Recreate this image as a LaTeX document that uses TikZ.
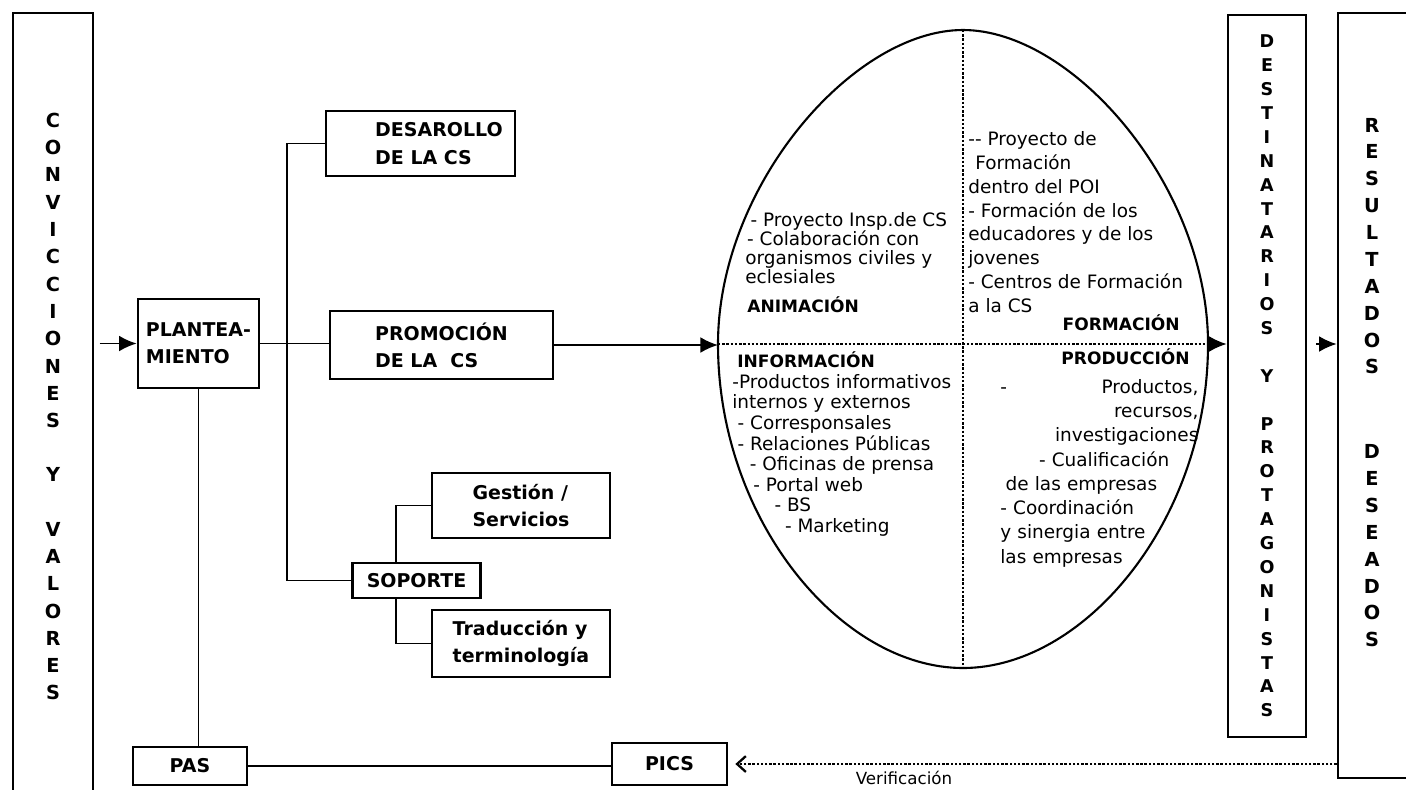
\documentclass[tikz,border=0pt]{standalone}
\usepackage{fontspec}
\setmainfont{DejaVu Sans}
\usetikzlibrary{arrows.meta}
\newcommand{\pxu}{0.02cm}

\begin{document}
\begin{tikzpicture}
    [x=0.02cm, y=-0.02cm,
    box/.style={rectangle, draw=black, line width=1.5pt, inner sep=0pt, align=left, font=\bfseries\fontsize{10.8}{15.5}\selectfont},
    column/.style={rectangle, draw=black, line width=1.5pt, inner sep=0pt, align=center},
    link/.style={line width=1.1pt},
    flow/.style={line width=1.1pt, -{Latex[length=10pt,width=9pt]}},
    quad/.style={inner sep=0pt, align=left},
    head/.style={inner sep=0pt, font=\bfseries\fontsize{9.7}{11}\selectfont},
    split/.style={line width=1.3pt, dash pattern=on 1.4pt off 1pt}]
\useasboundingbox (0,0) rectangle (1406,789);

\node[column, minimum width=80*\pxu, minimum height=787*\pxu, font=\bfseries\fontsize{11}{15.55}\selectfont] (conv) at (53,406.5)
    {C\\O\\N\\V\\I\\C\\C\\I\\O\\N\\E\\S\\[15.3pt]Y\\[15.3pt]V\\A\\L\\O\\R\\E\\S};
\node[column, minimum width=78*\pxu, minimum height=722*\pxu, font=\bfseries\fontsize{10}{13.6}\selectfont] (dest) at (1267,376)
    {D\\E\\S\\T\\I\\N\\A\\T\\A\\R\\I\\O\\S\\[13.6pt]Y\\[13.6pt]P\\R\\O\\T\\A\\G\\O\\N\\I\\S\\T\\A\\S};
\node[column, minimum width=84*\pxu, minimum height=765*\pxu] (result) at (1380,395.5) {};
\node[quad, align=center, font=\bfseries\fontsize{11}{15.3}\selectfont] (resulttxt) at (1372,382.5)
    {R\\E\\S\\U\\L\\T\\A\\D\\O\\S\\[32.9pt]D\\E\\S\\E\\A\\D\\O\\S};

\node[box, minimum width=121*\pxu, minimum height=89*\pxu] (plant) at (198.5,343.5) {PLANTEA-\\MIENTO};
\node[box, minimum width=189*\pxu, minimum height=65*\pxu] (desa) at (420.5,143.5) {\hspace*{21pt}DESAROLLO\\\hspace*{21pt}DE LA CS};
\node[box, minimum width=223*\pxu, minimum height=68*\pxu] (promo) at (441.5,345) {PROMOCIÓN\\DE LA\ \ CS};
\node[box, minimum width=128*\pxu, minimum height=35*\pxu] (sop) at (416.5,580.5) {SOPORTE};
\node[box, minimum width=178*\pxu, minimum height=65*\pxu] (gest) at (521,505.5) {Gestión /\\Servicios};
\node[box, minimum width=178*\pxu, minimum height=67*\pxu] (trad) at (521,643.5) {Traducción y\\terminología};
\node[box, minimum width=114*\pxu, minimum height=38*\pxu] (pas) at (190,766) {PAS};
\node[box, minimum width=115*\pxu, minimum height=42*\pxu] (pics) at (669.5,764) {PICS};

% oval of the four areas
\coordinate (ellw) at (718,344);
\coordinate (elle) at (1208,344);
\coordinate (elln) at (963,30);
\coordinate (ells) at (963,668);
\draw[line width=1.2pt] (ellw) .. controls (718,186) and (853,30) .. (elln)
    .. controls (1073,30) and (1208,186) .. (elle)
    .. controls (1208,520) and (1085,668) .. (ells)
    .. controls (841,668) and (718,520) .. (ellw) -- cycle;
\draw[split] (elln) -- (ells);
\draw[split] (ellw) -- (elle);

\node[quad, anchor=north west, font=\fontsize{10.5}{10.9}\selectfont] (animtxt) at (745,212)
    {\hspace*{3pt}- Proyecto Insp.de CS\\\hspace*{1pt}- Colaboración con\\organismos civiles y\\eclesiales};
\node[quad, anchor=north west, font=\fontsize{10.5}{13.6}\selectfont] (formtxt) at (968,131)
    {-{}- Proyecto de\\\hspace*{4pt}Formación\\dentro del POI\\- Formación de los\\educadores y de los\\jovenes\\- Centros de Formación\\a la CS};
\node[quad, anchor=north west, font=\fontsize{10.5}{11.7}\selectfont] (infotxt) at (732,374)
    {-Productos informativos\\internos y externos\\\hspace*{3pt}- Corresponsales\\\hspace*{3pt}- Relaciones Públicas\\\hspace*{10pt}- Oficinas de prensa\\\hspace*{12pt}- Portal web\\\hspace*{24pt}- BS\\\hspace*{30pt}- Marketing};
\node[quad, anchor=north west, text width=198*\pxu, font=\fontsize{10.5}{13.8}\selectfont] (prodtxt) at (1000,379)
    {\noindent-\nobreak\hfill Productos,\\\leavevmode\nobreak\hfill recursos,\\\leavevmode\nobreak\hfill investigaciones\hspace*{10pt}\\\hspace*{22pt}- Cualificación\\\hspace*{3pt}de las empresas\\- Coordinación\\y sinergia entre\\las empresas};

\node[head, anchor=west] (anim) at (747,305) {ANIMACIÓN};
\node[head, anchor=east] (form) at (1180,323) {FORMACIÓN};
\node[head, anchor=west] (info) at (737,360) {INFORMACIÓN};
\node[head, anchor=east] (prod) at (1190,357) {PRODUCCIÓN};
\node[inner sep=0pt, font=\fontsize{9.5}{11}\selectfont] (verif) at (904,778) {Verificación};

\coordinate (trunk) at (287,580.5);
\coordinate (soptap) at (396,580.5);
\draw[flow, shorten <=3pt] (conv.east |- plant.west) -- (plant.west);
\draw[link] (plant.east) -- (plant.east -| promo.west);
\draw[link] (desa.west) -| (trunk) -- (sop.west);
\draw[link] (soptap |- sop.north) |- (gest.west);
\draw[link] (soptap |- sop.south) |- (trad.west);
\draw[flow] (promo.east) -- (promo.east -| ellw);
\draw[flow] (elle) -- (dest.west |- elle);
\draw[flow, shorten <=5pt] (dest.east |- elle) -- (result.west |- elle);
\draw[link] (plant.south) -- (plant.south |- pas.north);
\draw[link] (pas.east) -- (pas.east -| pics.west);
\draw[split, -{Straight Barb[length=5pt,width=9pt]}, shorten >=4pt] (pics.east -| result.west) -- (pics.east);
\end{tikzpicture}
\end{document}
